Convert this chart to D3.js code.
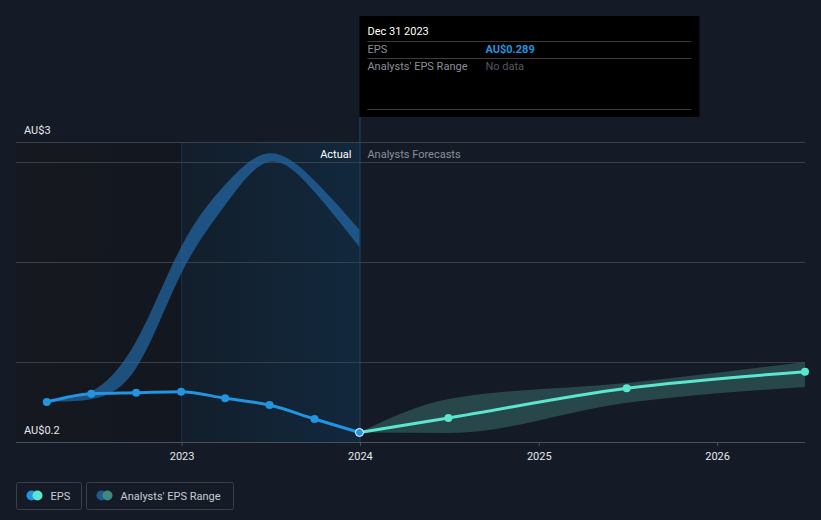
<!DOCTYPE html>
<html>
<head>
<meta charset="utf-8">
<script src="https://cdn.jsdelivr.net/npm/d3@7"></script>
<style>
  body { margin: 0; background: #151b26; }
  svg { display: block; font-family: Roboto, "Open Sans", sans-serif; }
  .grid line { stroke: #3a404a; stroke-width: 1; }
</style>
</head>
<body>
<div id="plot-container"></div>
<script>
// The chart values
var epsDates = ['2022-03-31', '2022-06-30', '2022-09-30', '2022-12-31', '2023-03-31', '2023-06-30', '2023-09-30', '2023-12-31'];
var epsValues = [0.573, 0.651, 0.66, 0.669, 0.608, 0.545, 0.415, 0.289];

var forecastDates = ['2023-12-31', '2024-06-30', '2025-06-30', '2026-06-30'];
var forecastValues = [0.289, 0.424, 0.701, 0.856];
var forecastLow = [0.289, 0.284, 0.566, 0.714];
var forecastHigh = [0.289, 0.601, 0.751, 0.947];

var pastRangeDates = ['2022-03-31', '2022-06-30', '2022-09-30', '2022-12-31', '2023-03-31', '2023-06-30', '2023-09-30', '2023-12-31'];
var pastRangeLow = [0.58, 0.6, 0.89, 1.77, 2.41, 2.816, 2.535, 2.02];
var pastRangeHigh = [0.6, 0.67, 1.14, 2.02, 2.6, 2.894, 2.64, 2.18];

var yTickLabels = [{v: 3, t: 'AU$3'}, {v: 0.2, t: 'AU$0.2'}];
var gridValues = [2.813, 1.88, 0.947];
var xTickYears = ['2023', '2024', '2025', '2026'];

// The configuration parameters
var totalWidth = 821, totalHeight = 520;
var margins = {top: 142, bottom: 78, left: 16, right: 16};
var width = totalWidth - margins.left - margins.right;
var height = totalHeight - margins.top - margins.bottom;
var parse = d3.timeParse('%Y-%m-%d');
var blue = '#2394df', teal = '#5ce6d0';

var xScale = d3.scaleTime().domain([parse('2022-01-27'), parse('2026-06-30')]).range([0, width]);
var yScale = d3.scaleLinear().domain([0.2, 3]).range([height, 0]);

var eps = epsDates.map(function(d, i) { return {date: parse(d), v: epsValues[i]}; });
var forecast = forecastDates.map(function(d, i) { return {date: parse(d), v: forecastValues[i], lo: forecastLow[i], hi: forecastHigh[i]}; });
var pastRange = pastRangeDates.map(function(d, i) { return {date: parse(d), lo: pastRangeLow[i], hi: pastRangeHigh[i]}; });

var line = d3.line().curve(d3.curveMonotoneX).x(function(d) { return xScale(d.date); }).y(function(d) { return yScale(d.v); });
var area = d3.area().curve(d3.curveMonotoneX).x(function(d) { return xScale(d.date); })
  .y0(function(d) { return yScale(d.lo); }).y1(function(d) { return yScale(d.hi); });
var smoothArea = d3.area().curve(d3.curveNatural).x(function(d) { return xScale(d.date); })
  .y0(function(d) { return yScale(d.lo); }).y1(function(d) { return yScale(d.hi); });

var svg = d3.select('#plot-container').append('svg').attr('width', totalWidth).attr('height', totalHeight);
var defs = svg.append('defs');
var gPast = defs.append('linearGradient').attr('id', 'pastShade');
gPast.append('stop').attr('offset', '0%').attr('stop-color', '#15181f');
gPast.append('stop').attr('offset', '100%').attr('stop-color', '#13171f');
var gActual = defs.append('linearGradient').attr('id', 'actualShade');
gActual.append('stop').attr('offset', '0%').attr('stop-color', '#121e2b');
gActual.append('stop').attr('offset', '100%').attr('stop-color', '#12283d');

var plot = svg.append('g').attr('transform', 'translate(' + [margins.left, margins.top] + ')');
var xNow = xScale(parse('2023-12-31')), xYearAgo = xScale(parse('2022-12-31'));

// shaded past regions
plot.append('rect').attr('x', 0).attr('y', 0).attr('width', xYearAgo).attr('height', height).attr('fill', 'url(#pastShade)');
plot.append('rect').attr('x', xYearAgo).attr('y', 0).attr('width', xNow - xYearAgo).attr('height', height).attr('fill', 'url(#actualShade)');
plot.append('line').attr('x1', xYearAgo + 0.5).attr('x2', xYearAgo + 0.5).attr('y1', 0).attr('y2', height).attr('stroke', '#1c3346');

// grid lines
var grid = plot.append('g').attr('class', 'grid');
grid.append('line').attr('x1', 0).attr('x2', width).attr('y1', 0.5).attr('y2', 0.5);
grid.selectAll('line.g').data(gridValues).enter().append('line').attr('class', 'g')
  .attr('x1', 0).attr('x2', width).attr('y1', function(d) { return Math.round(yScale(d)) + 0.5; }).attr('y2', function(d) { return Math.round(yScale(d)) + 0.5; });

// x axis
var xAxis = d3.axisBottom(xScale).tickValues(xTickYears.map(function(y) { return parse(y + '-01-01'); }))
  .tickFormat(d3.timeFormat('%Y')).tickSize(4).tickPadding(6);
var xg = plot.append('g').attr('transform', 'translate(0,' + height + ')').call(xAxis);
xg.select('.domain').attr('stroke', '#4a5059').attr('d', 'M0,0.5H' + width);
xg.selectAll('.tick line').attr('stroke', '#4a5059');
xg.selectAll('.tick text').attr('fill', '#e6e8eb').attr('font-size', 11).attr('font-family', 'Roboto, sans-serif');

// y labels
plot.selectAll('text.ylabel').data(yTickLabels).enter().append('text').attr('class', 'ylabel')
  .attr('x', 8).attr('y', function(d) { return yScale(d.v) - 8; })
  .attr('fill', '#e6e8eb').attr('font-size', 11).text(function(d) { return d.t; });

// analyst range bands
plot.append('path').datum(pastRange).attr('d', smoothArea).attr('fill', '#2267a3').attr('fill-opacity', 0.72);
plot.append('path').datum(forecast).attr('d', area).attr('fill', '#2f5a5a').attr('fill-opacity', 0.7);

// now line
plot.append('line').attr('x1', xNow + 0.5).attr('x2', xNow + 0.5).attr('y1', 16 - margins.top + 101).attr('y2', height).attr('stroke', '#1f4a6e');

// section labels
plot.append('text').attr('x', xNow - 8).attr('y', 16).attr('text-anchor', 'end').attr('fill', '#ffffff').attr('font-size', 11).text('Actual');
plot.append('text').attr('x', xNow + 8).attr('y', 16).attr('fill', '#8a9099').attr('font-size', 11).text('Analysts Forecasts');

// lines
plot.append('path').datum(eps).attr('d', line).attr('fill', 'none').attr('stroke', blue).attr('stroke-width', 3);
plot.append('path').datum(forecast).attr('d', line).attr('fill', 'none').attr('stroke', teal).attr('stroke-width', 3);

plot.selectAll('circle.eps').data(eps.slice(0, -1)).enter().append('circle').attr('class', 'eps')
  .attr('cx', function(d) { return xScale(d.date); }).attr('cy', function(d) { return yScale(d.v); }).attr('r', 4).attr('fill', blue);
plot.selectAll('circle.fc').data(forecast.slice(1)).enter().append('circle').attr('class', 'fc')
  .attr('cx', function(d) { return xScale(d.date); }).attr('cy', function(d) { return yScale(d.v); }).attr('r', 4).attr('fill', teal);
plot.append('circle').datum(eps[eps.length - 1]).attr('cx', function(d) { return xScale(d.date); }).attr('cy', function(d) { return yScale(d.v); })
  .attr('r', 4).attr('fill', blue).attr('stroke', '#ffffff').attr('stroke-width', 1);

// tooltip
var tip = svg.append('g').attr('transform', 'translate(' + [margins.left + xNow, 16] + ')');
tip.append('rect').attr('width', 340).attr('height', 101).attr('fill', '#000000');
tip.append('text').attr('x', 8).attr('y', 19).attr('fill', '#ffffff').attr('font-size', 11).text('Dec 31 2023');
[25.5, 42.5, 93.5].forEach(function(y) {
  tip.append('line').attr('x1', 8).attr('x2', 332).attr('y1', y).attr('y2', y).attr('stroke', '#3d3d3d');
});
tip.append('text').attr('x', 8).attr('y', 37).attr('fill', '#8a8f96').attr('font-size', 11).text('EPS');
tip.append('text').attr('x', 126).attr('y', 37).attr('fill', blue).attr('font-size', 11).attr('font-weight', 'bold').text('AU$' + epsValues[epsValues.length - 1]);
tip.append('text').attr('x', 8).attr('y', 54).attr('fill', '#8a8f96').attr('font-size', 11).text("Analysts' EPS Range");
tip.append('text').attr('x', 126).attr('y', 54).attr('fill', '#55595f').attr('font-size', 11).text('No data');

// legend
var legendItems = [
  {label: 'EPS', c1: blue, c2: teal, w: 65},
  {label: "Analysts' EPS Range", c1: '#1f5a8a', c2: '#3e8a80', w: 147}
];
var lx = 16.5;
legendItems.forEach(function(d) {
  var g = svg.append('g').attr('transform', 'translate(' + [lx, 482.5] + ')');
  g.append('rect').attr('width', d.w).attr('height', 27).attr('rx', 2).attr('fill', 'none').attr('stroke', '#3a3f48');
  g.append('circle').attr('cx', 15).attr('cy', 13).attr('r', 5).attr('fill', d.c1);
  g.append('circle').attr('cx', 21).attr('cy', 13).attr('r', 5).attr('fill', d.c2);
  g.append('text').attr('x', 34).attr('y', 17).attr('fill', '#c8ccd2').attr('font-size', 11).text(d.label);
  lx += d.w + 5;
});
</script>
</body>
</html>
